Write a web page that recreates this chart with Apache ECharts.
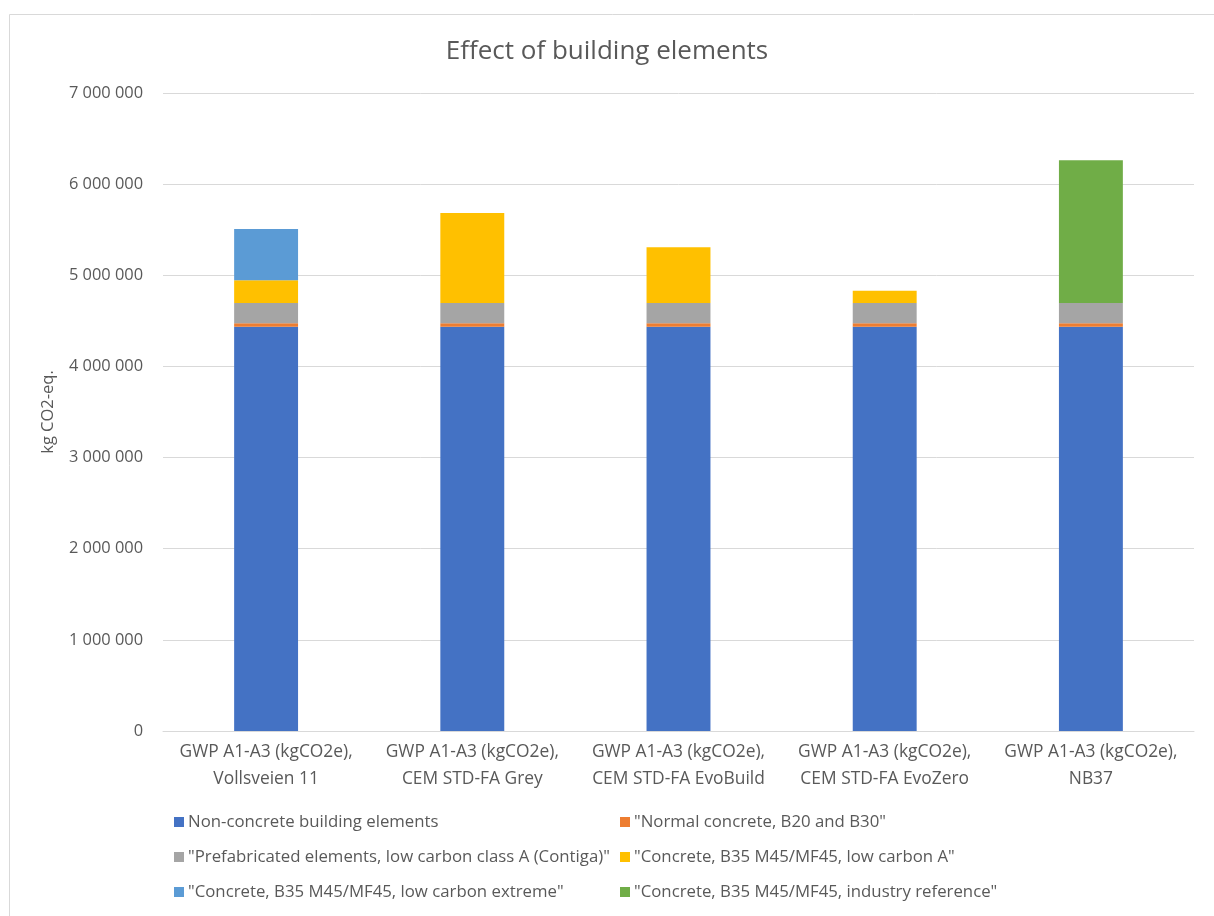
<!DOCTYPE html>
<html>
<head>
<meta charset="utf-8">
<style>
  html, body { margin: 0; padding: 0; background: #ffffff; }
  #chart { width: 1214px; height: 916px; }
</style>
<script src="https://cdn.jsdelivr.net/npm/echarts@6/dist/echarts.min.js"></script>
</head>
<body>
<div id="chart"></div>
<script>
// Building scenarios along the x axis
const categories = [
  'GWP A1-A3 (kgCO2e),\nVollsveien 11',
  'GWP A1-A3 (kgCO2e),\nCEM STD-FA Grey',
  'GWP A1-A3 (kgCO2e),\nCEM STD-FA EvoBuild',
  'GWP A1-A3 (kgCO2e),\nCEM STD-FA EvoZero',
  'GWP A1-A3 (kgCO2e),\nNB37'
];

// Series names (stack order, bottom to top)
const seriesNames = [
  'Non-concrete building elements',
  '"Normal concrete, B20 and B30"',
  '"Prefabricated elements, low carbon class A (Contiga)"',
  '"Concrete, B35 M45/MF45, low carbon A"',
  '"Concrete, B35 M45/MF45, low carbon extreme"',
  '"Concrete, B35 M45/MF45, industry reference"'
];

// kg CO2-eq. per scenario
const nonConcrete      = [4436000, 4436000, 4436000, 4436000, 4436000];
const normalConcrete   = [37000, 37000, 37000, 37000, 37000];
const prefabricated    = [223000, 223000, 223000, 223000, 223000];
const lowCarbonA       = [249000, 988000, 611000, 135000, null];
const lowCarbonExtreme = [563000, null, null, null, null];
const industryRef      = [null, null, null, null, 1566000];

const yTicks = { min: 0, max: 7000000, interval: 1000000 };

const seriesValues = [nonConcrete, normalConcrete, prefabricated, lowCarbonA, lowCarbonExtreme, industryRef];
const colors = ['#4472C4', '#ED7D31', '#A5A5A5', '#FFC000', '#5B9BD5', '#70AD47'];

const FONT = '"Open Sans", sans-serif';
const TEXT = '#595959';

function fmt(v) {
  return String(v).replace(/\B(?=(\d{3})+(?!\d))/g, ' ');
}

const chart = echarts.init(document.getElementById('chart'), null, { renderer: 'canvas' });

const legendCommon = {
  orient: 'vertical',
  itemWidth: 10,
  itemHeight: 10,
  itemGap: 15,
  icon: 'rect',
  textStyle: { fontFamily: FONT, fontSize: 16.8, color: TEXT, lineHeight: 20, padding: [0, 0, 0, -1] },
  top: 812,
  padding: 0
};

chart.setOption({
  animation: false,
  backgroundColor: '#ffffff',
  color: colors,
  textStyle: { fontFamily: FONT },
  graphic: [{
    type: 'rect',
    shape: { x: 9.5, y: 14.5, width: 1400, height: 1200 },
    style: { fill: 'none', stroke: '#d9d9d9', lineWidth: 1 },
    silent: true,
    z: -10
  }],
  title: {
    text: 'Effect of building elements',
    left: 'center',
    top: 34,
    textStyle: { fontFamily: FONT, fontSize: 26, fontWeight: 'normal', color: TEXT }
  },
  grid: { left: 163, right: 20, top: 93, bottom: 185, containLabel: false },
  legend: [
    Object.assign({ left: 174, data: [seriesNames[0], seriesNames[2], seriesNames[4]] }, legendCommon),
    Object.assign({ left: 620, data: [seriesNames[1], seriesNames[3], seriesNames[5]] }, legendCommon)
  ],
  xAxis: {
    type: 'category',
    data: categories,
    axisLine: { lineStyle: { color: '#d9d9d9', width: 1 } },
    axisTick: { show: false },
    axisLabel: {
      interval: 0,
      margin: 8,
      fontFamily: FONT,
      fontSize: 17.4,
      lineHeight: 27,
      color: TEXT
    }
  },
  yAxis: {
    type: 'value',
    min: yTicks.min,
    max: yTicks.max,
    interval: yTicks.interval,
    name: 'kg CO2-eq.',
    nameLocation: 'middle',
    nameRotate: 90,
    nameGap: 106,
    nameTextStyle: { fontFamily: FONT, fontSize: 16.5, color: TEXT },
    axisLine: { show: false },
    axisTick: { show: false },
    axisLabel: {
      margin: 20,
      fontFamily: FONT,
      fontSize: 16.4,
      color: TEXT,
      formatter: fmt
    },
    splitLine: { lineStyle: { color: '#d9d9d9', width: 1 } }
  },
  series: seriesNames.map((name, i) => ({
    name: name,
    type: 'bar',
    stack: 'total',
    barWidth: '31%',
    data: seriesValues[i],
    itemStyle: { color: colors[i] }
  }))
});
</script>
</body>
</html>
